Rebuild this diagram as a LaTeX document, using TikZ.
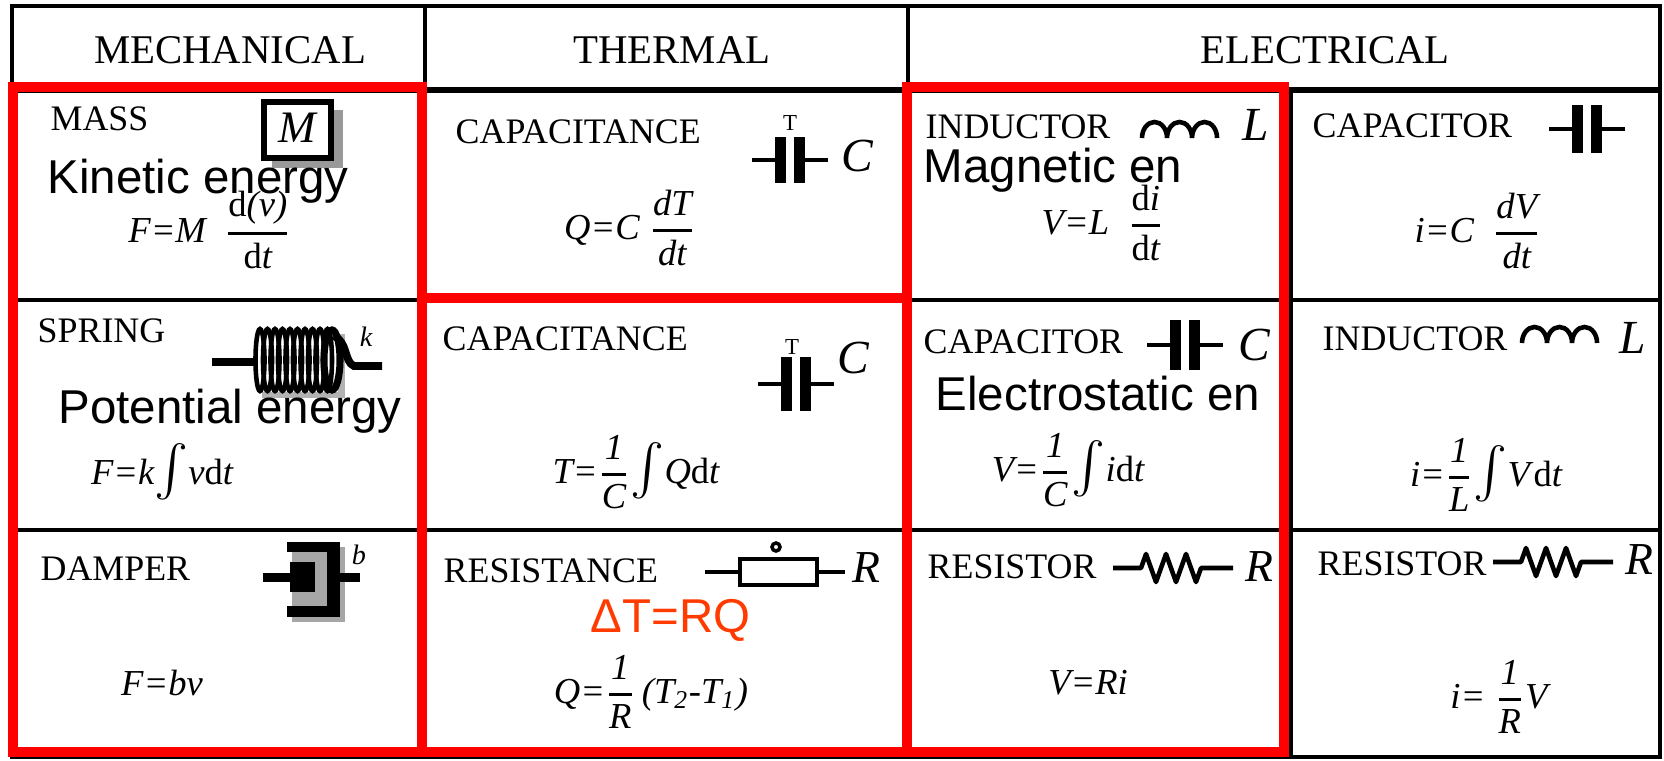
\documentclass[tikz,border=0pt]{standalone}
\usepackage{amsmath,amssymb}
\usepackage{fontspec}
\setmainfont{Liberation Serif}
\newfontfamily\arialfont{Liberation Sans}
\definecolor{hired}{RGB}{255,0,0}
\definecolor{notered}{RGB}{255,59,0}
\newcommand{\tfr}[2]{$\genfrac{}{}{0.8pt}{0}{\text{#1}}{\text{#2}}$}
\newcommand{\intsym}{{\fontsize{14.5}{14}\selectfont$\int$}}

\begin{document}
\begin{tikzpicture}
	[x=0.01cm,y=-0.01cm,
	head/.style={anchor=base,inner sep=0pt,font=\fontsize{11.6}{13}\selectfont},
	lab/.style={anchor=base west,inner sep=0pt,font=\fontsize{10.2}{12}\selectfont},
	eq/.style={inner sep=0pt,font=\fontsize{10.4}{12}\selectfont\itshape},
	note/.style={anchor=base west,inner sep=0pt,font=\arialfont\fontsize{13.5}{16}\selectfont},
	sym/.style={inner sep=0pt,font=\fontsize{13.5}{16}\selectfont\itshape},
	grid/.style={line width=1pt},
	box/.style={draw=hired,line width=0.1cm}]
	\useasboundingbox (0,0) rectangle (1664,760);
	\fill[white] (0,0) rectangle (1664,760);

	\draw[line width=1.4pt] (12,6) rectangle (1660,757);
	\draw[line width=1.8pt] (12,90) -- (1660,90);
	\draw[grid] (425,6) -- (425,757) (908,6) -- (908,757) (1291,90) -- (1291,757)
		(12,300) -- (1660,300) (12,530) -- (1660,530);

	\node[head] (h1) at (230,63) {MECHANICAL};
	\node[head] (h2) at (672,63) {THERMAL};
	\node[head] (h3) at (1325,63) {ELECTRICAL};

	\foreach \n/\x/\y/\t in {l1/50/130/MASS,l2/455/143/CAPACITANCE,l3/925/138/INDUCTOR,
		l4/1312/137/CAPACITOR,l5/37/342/SPRING,l6/442/350/CAPACITANCE,l7/923/353/CAPACITOR,
		l8/1322/350/INDUCTOR,l9/40/580/DAMPER,l10/443/582/RESISTANCE,l11/927/578/RESISTOR,
		l12/1317/575/RESISTOR}
	\node[lab] (\n) at (\x,\y) {\t};

	% mass
	\fill[black!40] (272,110) rectangle (343,168);
	\fill[white] (264,102) rectangle (331,158);
	\draw[line width=1.6pt] (264,102) rectangle (331,158);
	\node[sym,font=\fontsize{12.8}{14}\selectfont\itshape] (m1) at (297,128) {M};

	% spring
	\fill[black!30] (262,334) rectangle (345,398);
	\fill[white] (256,328) rectangle (338,392);
	\draw[line width=2.5pt] (212,362) -- (258,362);
	\foreach \i in {0,...,9}
	\draw[line width=1.3pt] ({260+7.5*\i},360) ellipse (0.045cm and 0.31cm);
	\draw[line width=2pt] (332,360) ellipse (0.08cm and 0.3cm);
	\draw[line width=2.2pt] (334,336) .. controls (348,342) and (344,362) .. (354,366) -- (382,366);
	\node[sym,font=\fontsize{8}{9}\selectfont\itshape] (k1) at (366,337) {k};

	% damper
	\fill[black!35] (292,547) rectangle (345,622);
	\fill (287,542) rectangle (340,552);
	\fill (327,542) rectangle (340,617);
	\fill (287,606) rectangle (340,617);
	\fill (290,562) rectangle (315,592);
	\fill (263,573) rectangle (292,582);
	\fill (340,573) rectangle (360,582);
	\node[sym,font=\fontsize{8}{9}\selectfont\itshape] (b1) at (359,555) {b};

	% capacitors
	\foreach \cx/\cy/\h in {790/160/23,796/384/27,1587/129/24,1185/345/25}{
		\fill ({\cx-15},{\cy-\h}) rectangle ({\cx-4},{\cy+\h});
		\fill ({\cx+4},{\cy-\h}) rectangle ({\cx+15},{\cy+\h});
		\draw[line width=1.3pt] ({\cx-38},\cy) -- ({\cx-15},\cy) ({\cx+15},\cy) -- ({\cx+38},\cy);
	}
	\node[font=\fontsize{6.5}{7}\selectfont,inner sep=0pt] (t1) at (790,123) {T};
	\node[font=\fontsize{6.5}{7}\selectfont,inner sep=0pt] (t2) at (792,347) {T};

	% inductors
	\foreach \ix/\iy in {1142/138,1522/343}
	\draw[line width=1.3pt] (\ix,\iy) arc[start angle=180,end angle=0,x radius=0.125cm,y radius=0.16cm]
		arc[start angle=180,end angle=0,x radius=0.125cm,y radius=0.16cm]
		arc[start angle=180,end angle=0,x radius=0.125cm,y radius=0.16cm];

	% thermal resistance
	\draw[line width=1.4pt] (705,572) -- (740,572) (817,572) -- (845,572);
	\draw[line width=1.4pt] (740,559) rectangle (817,585);
	\draw[line width=1pt] (776,547) circle (0.04cm);

	% resistors
	\foreach \zx/\zy in {1113/568,1493/562}
	\draw[line width=1.3pt,line join=round] (\zx,\zy) -- ++(28,0) -- ++(5,-14) -- ++(10,28) -- ++(10,-28)
		-- ++(10,28) -- ++(10,-28) -- ++(10,28) -- ++(5,-14) -- ++(32,0);

	\node[sym] (c1) at (857,156) {C};
	\node[sym] (c2) at (853,358) {C};
	\node[sym] (c3) at (1254,345) {C};
	\node[sym] (i1) at (1256,125) {L};
	\node[sym] (i2) at (1633,338) {L};
	\node[sym,font=\fontsize{13}{15}\selectfont\itshape] (r1) at (866,568) {R};
	\node[sym,font=\fontsize{13}{15}\selectfont\itshape] (r2) at (1259,567) {R};
	\node[sym,font=\fontsize{13}{15}\selectfont\itshape] (r3) at (1639,560) {R};

	\node[eq] (e1) at (210,230) {F=M\ \ \tfr{\textup{d}(v)}{\textup{d}t}};
	\node[eq] (e2) at (630,228) {Q=C \tfr{dT}{dt}};
	\node[eq] (e3) at (1103,223) {V=L\ \ \tfr{\textup{d}i}{\textup{d}t}};
	\node[eq] (e4) at (1478,231) {i=C\ \ \tfr{dV}{dt}};
	\node[eq] (e5) at (162,472) {F=k\intsym v\textup{d}t};
	\node[eq] (e6) at (636,472) {T=\tfr{1}{C}\intsym Q\textup{d}t};
	\node[eq] (e7) at (1068,470) {V=\tfr{1}{C}\intsym i\textup{d}t};
	\node[eq] (e8) at (1486,475) {i=\tfr{1}{L}\intsym V\textup{d}t};
	\node[eq] (e9) at (162,683) {F=bv};
	\node[eq] (e10) at (651,692) {Q=\tfr{1}{R}\,(T\textsubscript{2}-T\textsubscript{1})};
	\node[eq] (e11) at (1088,683) {V=Ri};
	\node[eq] (e12) at (1499,697) {i= \tfr{1}{R}V};

	\node[note] (a1) at (47,193) {Kinetic energy};
	\node[note] (a2) at (58,423) {Potential energy};
	\node[note] (a3) at (923,182) {Magnetic en};
	\node[note] (a4) at (935,410) {Electrostatic en};
	\node[note,text=notered] (a5) at (590,632) {ΔT=RQ};

	\draw[box] (13,87) rectangle (422,752);
	\draw[box] (422,298) rectangle (907,752);
	\draw[box] (907,87) rectangle (1284,752);
\end{tikzpicture}
\end{document}
